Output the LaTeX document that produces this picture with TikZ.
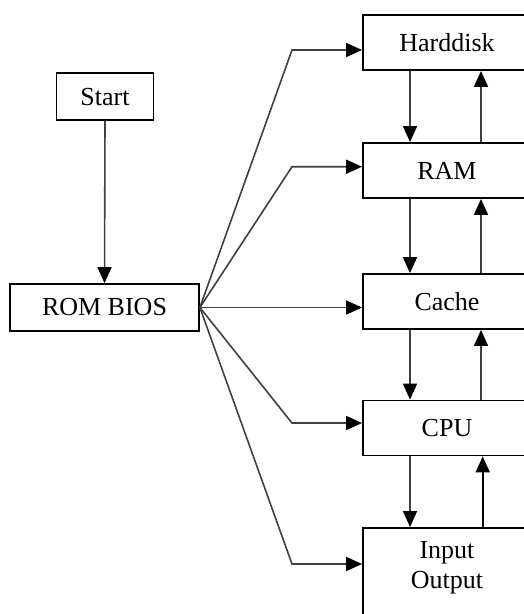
\documentclass[tikz,border=0pt]{standalone}
\usepackage{fontspec}
\setmainfont{Liberation Serif}
\usetikzlibrary{arrows.meta}
\begin{document}
\begin{tikzpicture}[x=1pt,y=-1pt,
  box/.style={draw=black,line width=1.8pt,rectangle,inner sep=0pt,
    font=\fontsize{26}{30}\selectfont,align=center},
  flow/.style={draw=black!75,line width=1.6pt,
    -{Triangle[length=16pt,width=14pt,fill=black,color=black]}}]
\useasboundingbox (0,0) rectangle (524,614);
\clip (0,0) rectangle (524,614);

% left column
\node[box,minimum width=97pt,minimum height=47pt] (start) at (105,96.7) {Start};
\node[box,minimum width=189pt,minimum height=47pt] (rom) at (104.5,307.5) {ROM BIOS};

% memory hierarchy column (runs past the right edge)
\node[box,minimum width=168pt,minimum height=55pt] (hd)    at (447,42.5)  {Harddisk};
\node[box,minimum width=168pt,minimum height=55pt] (ram)   at (447,170.5) {RAM};
\node[box,minimum width=168pt,minimum height=55pt] (cache) at (447,301.5) {Cache};
\node[box,minimum width=168pt,minimum height=55pt] (cpu)   at (447,428)   {CPU};
\node[box,minimum width=168pt,minimum height=130pt,anchor=north] (io) at (447,527) {};
\node[font=\fontsize{26}{30}\selectfont,align=center,inner sep=0pt] (iotext) at (447,568) {Input\\Output};

% start -> ROM BIOS
\draw[flow] (start.south) -- (rom.north);

% ROM BIOS fans out to every level
\coordinate (kh) at (292,50);
\coordinate (kr) at (292,166.7);
\coordinate (kc) at (292,307.5);
\coordinate (kp) at (292,423);
\coordinate (ki) at (292,564);
\draw[flow] (rom.east) -- (kh) -- (kh -| hd.west);
\draw[flow] (rom.east) -- (kr) -- (kr -| ram.west);
\draw[flow] (rom.east) -- (kc -| cache.west);
\draw[flow] (rom.east) -- (kp) -- (kp -| cpu.west);
\draw[flow] (rom.east) -- (ki) -- (ki -| io.west);

% downward transfers
\coordinate (dn) at (410,0);
\draw[flow] (dn |- hd.south)    -- (dn |- ram.north);
\draw[flow] (dn |- ram.south)   -- (dn |- cache.north);
\draw[flow] (dn |- cache.south) -- (dn |- cpu.north);
\draw[flow] (dn |- cpu.south)   -- (dn |- io.north);

% upward transfers
\coordinate (up) at (481,0);
\coordinate (up2) at (482.7,0);
\draw[flow] (up |- ram.north)   -- (up |- hd.south);
\draw[flow] (up |- cache.north) -- (up |- ram.south);
\draw[flow] (up |- cpu.north)   -- (up |- cache.south);
\draw[flow,draw=black,line width=2pt] (up2 |- io.north) -- (up2 |- cpu.south);
\end{tikzpicture}
\end{document}
